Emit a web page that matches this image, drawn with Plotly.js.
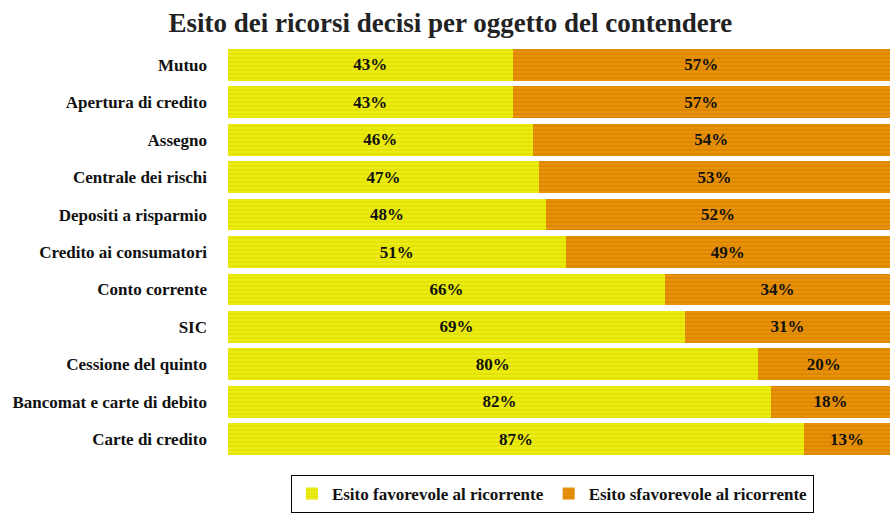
<!DOCTYPE html>
<html>
<head>
<meta charset="utf-8">
<script src="https://cdn.plot.ly/plotly-3.0.1.min.js"></script>
<style>html,body{margin:0;padding:0;background:#fff;}#chart{width:890px;height:513px;}</style>
</head>
<body>
<div id="chart"></div>
<script>
var categories = ["Mutuo","Apertura di credito","Assegno","Centrale dei rischi","Depositi a risparmio","Credito ai consumatori","Conto corrente","SIC","Cessione del quinto","Bancomat e carte di debito","Carte di credito"];
var favorevole = [43,43,46,47,48,51,66,69,80,82,87];
var sfavorevole = [57,57,54,53,52,49,34,31,20,18,13];
var seriesNames = ["Esito favorevole al ricorrente","Esito sfavorevole al ricorrente"];

var serif = "'Liberation Serif', 'DejaVu Serif', serif";

function trace(vals, name, bg, fg){
  return {
    type:'bar', orientation:'h', y:categories, x:vals, name:name,
    text: vals.map(function(v){return v+'%';}),
    textposition:'inside', insidetextanchor:'middle', constraintext:'none',
    textfont:{family:serif, size:17, color:'#111', weight:'bold'},
    marker:{color:bg, line:{width:0}, pattern:{shape:'-', fgcolor:fg, bgcolor:bg, size:4, solidity:0.35, fillmode:'overlay'}},
    hoverinfo:'skip'
  };
}

var data = [
  trace(favorevole, seriesNames[0], '#e4e400', '#f8f840'),
  trace(sfavorevole, seriesNames[1], '#de8800', '#f8a020')
];

var layout = {
  width:890, height:513,
  margin:{l:228, r:0, t:46, b:54},
  paper_bgcolor:'#fff', plot_bgcolor:'#fff',
  barmode:'stack', bargap:0.15,
  title:{text:'Esito dei ricorsi decisi per oggetto del contendere', x:0.506, xanchor:'center', y:0.957, yanchor:'middle',
    font:{family:serif, size:27, color:'#222', weight:'bold'}},
  xaxis:{range:[0,100], visible:false, fixedrange:true},
  yaxis:{autorange:'reversed', showgrid:false, zeroline:false, showline:false, ticks:'', ticklabelstandoff:20,
    tickfont:{family:serif, size:17, color:'#111', weight:'bold'}},
  showlegend:true,
  legend:{orientation:'h', x:0.49, xanchor:'center', y:-0.04, yanchor:'top',
    bordercolor:'#000', borderwidth:1, bgcolor:'#fff',
    font:{family:serif, size:17, color:'#111', weight:'bold'}, traceorder:'normal', itemwidth:30}
};

Plotly.newPlot('chart', data, layout, {displayModeBar:false, staticPlot:true});
</script>
</body>
</html>
